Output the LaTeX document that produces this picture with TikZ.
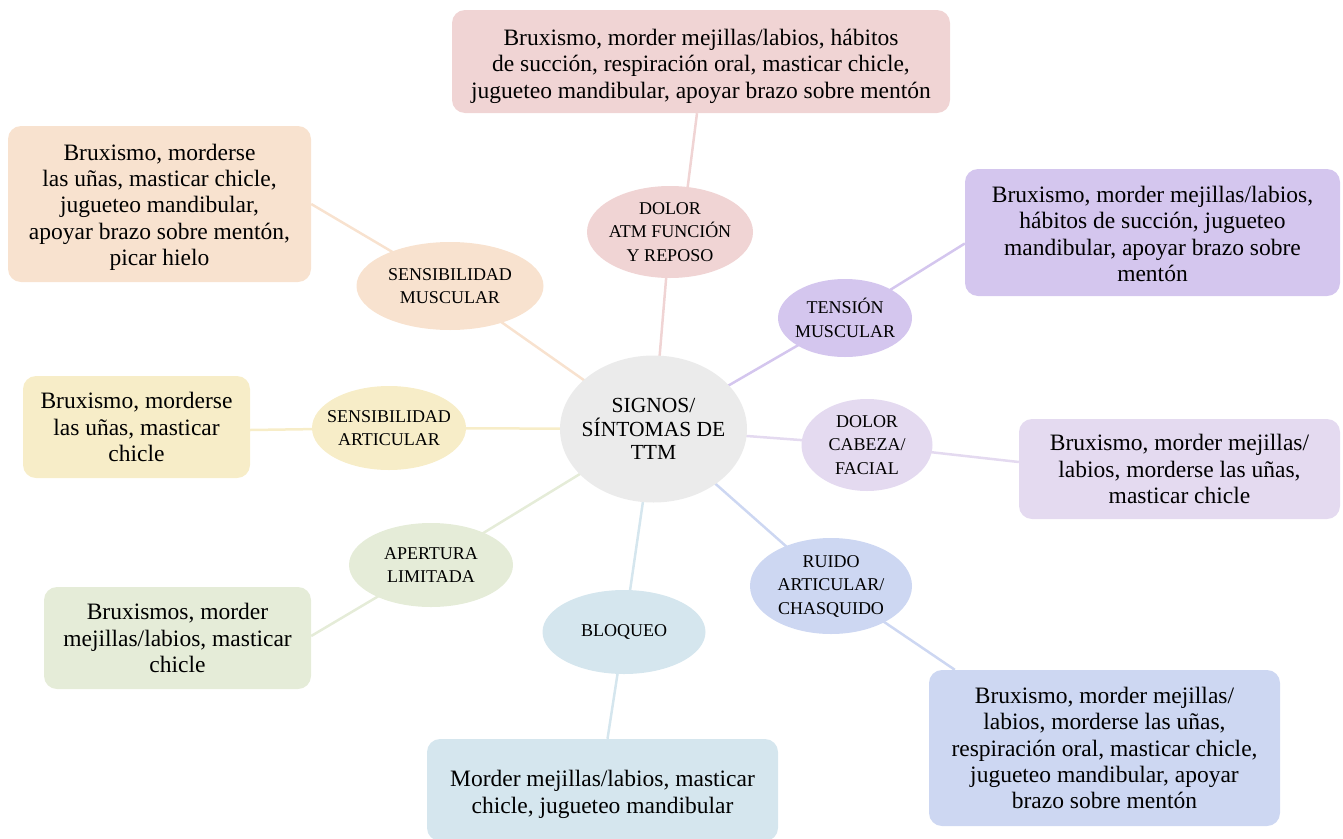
\documentclass[tikz,border=0pt]{standalone}
\usepackage{fontspec}
\setmainfont{Liberation Serif}
\usetikzlibrary{shapes.geometric,backgrounds,calc}
\definecolor{cpink}{HTML}{F0D4D4}
\definecolor{corange}{HTML}{F8E2CF}
\definecolor{cyellow}{HTML}{F7EDC8}
\definecolor{cgreen}{HTML}{E5ECD8}
\definecolor{cblue}{HTML}{D5E6EE}
\definecolor{cperi}{HTML}{CDD7F2}
\definecolor{clav}{HTML}{E4DAF0}
\definecolor{cpurple}{HTML}{D4C6EE}
\definecolor{ccenter}{HTML}{EBEBEB}
\newcommand{\tpush}[1]{\rule{0pt}{#1}}
\tikzset{
  box/.style={rectangle, rounded corners=13pt, align=center, inner sep=0pt, font=\fontsize{23.5}{26.3}\selectfont},
  oval/.style={ellipse, inner xsep=-30pt, inner ysep=-15pt, align=center, font=\fontsize{18}{23.5}\selectfont},
  link/.style={line width=2.5pt},
}
\begin{document}
\begin{tikzpicture}[x=1pt,y=-1pt]
\useasboundingbox (0,0) rectangle (1343,838);
% center
\node[oval, fill=ccenter, minimum width=187pt, minimum height=147pt, font=\fontsize{21.5}{23.5}\selectfont] (c) at (653.5,429) {SIGNOS/\\SÍNTOMAS DE\\TTM};
% ellipses
\node[oval, fill=cpink, minimum width=166pt, minimum height=92pt] (atm) at (670,232) {DOLOR\\ATM FUNCIÓN\\Y REPOSO};
\node[oval, fill=cpurple, minimum width=134pt, minimum height=78pt] (ten) at (845,318) {TENSIÓN\\MUSCULAR};
\node[oval, fill=clav, minimum width=131pt, minimum height=92pt] (cab) at (867,445) {DOLOR\\CABEZA/\\FACIAL};
\node[oval, fill=cperi, minimum width=162pt, minimum height=96pt] (rui) at (831,586) {RUIDO\\ARTICULAR/\\CHASQUIDO};
\node[oval, fill=cblue, minimum width=163pt, minimum height=84pt] (blo) at (624,632) {BLOQUEO};
\node[oval, fill=cgreen, minimum width=164pt, minimum height=84pt] (ape) at (431,565) {APERTURA\\LIMITADA};
\node[oval, fill=cyellow, minimum width=154pt, minimum height=84pt] (sar) at (389,428) {SENSIBILIDAD\\ARTICULAR};
\node[oval, fill=corange, minimum width=187pt, minimum height=88pt] (smu) at (450,286) {SENSIBILIDAD\\MUSCULAR};
% boxes
\node[box, fill=cpink, minimum width=498pt, minimum height=103pt] (b1) at (701,61.5) {\tpush{26pt}Bruxismo, morder mejillas/labios, hábitos\\de succión, respiración oral, masticar chicle,\\jugueteo mandibular, apoyar brazo sobre mentón};
\node[box, fill=corange, minimum width=303pt, minimum height=156pt] (b2) at (159.5,204) {\tpush{22.5pt}Bruxismo, morderse\\las uñas, masticar chicle,\\jugueteo mandibular,\\apoyar brazo sobre mentón,\\picar hielo};
\node[box, fill=cyellow, minimum width=227pt, minimum height=102pt] (b3) at (136.5,427) {Bruxismo, morderse\\las uñas, masticar\\chicle};
\node[box, fill=cgreen, minimum width=267pt, minimum height=102pt] (b4) at (177.5,638) {Bruxismos, morder\\mejillas/labios, masticar\\chicle};
\node[box, fill=cblue, minimum width=351pt, minimum height=102pt] (b5) at (602.5,790) {\tpush{25pt}Morder mejillas/labios, masticar\\chicle, jugueteo mandibular};
\node[box, fill=cperi, minimum width=351pt, minimum height=156pt] (b6) at (1104.5,748) {Bruxismo, morder mejillas/\\labios, morderse las uñas,\\respiración oral, masticar chicle,\\jugueteo mandibular, apoyar\\brazo sobre mentón};
\node[box, fill=clav, minimum width=321pt, minimum height=100pt] (b7) at (1179.5,469) {Bruxismo, morder mejillas/\\labios, morderse las uñas,\\masticar chicle};
\node[box, fill=cpurple, minimum width=375pt, minimum height=127pt] (b8) at (1152.5,232.5) {\tpush{19.5pt}Bruxismo, morder mejillas/labios,\\hábitos de succión, jugueteo\\mandibular, apoyar brazo sobre\\mentón};
% connectors
\begin{pgfonlayer}{background}
\draw[link, cpink] (c.center) -- (atm.center);
\draw[link, cpink] ($(atm.center)+(12,0)$) -- ($(b1.south)+(-4,0)$);
\draw[link, cpurple] (c.center) -- (ten.center);
\draw[link, cpurple] (ten.center) -- ($(b8.west)+(0,11)$);
\draw[link, clav] (c.center) -- (cab.center);
\draw[link, clav] (cab.center) -- ($(b7.west)+(0,-7)$);
\draw[link, cperi] (c.center) -- (rui.center);
\draw[link, cperi] (rui.center) -- ($(b6.north west)+(26,0)$);
\draw[link, cblue] (c.center) -- (blo.center);
\draw[link, cblue] (blo.center) -- ($(b5.north)+(5,0)$);
\draw[link, cgreen] (c.center) -- (ape.center);
\draw[link, cgreen] (ape.center) -- ($(b4.east)+(0,-2)$);
\draw[link, cyellow] (c.center) -- (sar.center);
\draw[link, cyellow] (sar.center) -- ($(b3.east)+(0,3)$);
\draw[link, corange] (c.center) -- (smu.center);
\draw[link, corange] (smu.center) -- (b2.east);
\end{pgfonlayer}
\end{tikzpicture}
\end{document}
